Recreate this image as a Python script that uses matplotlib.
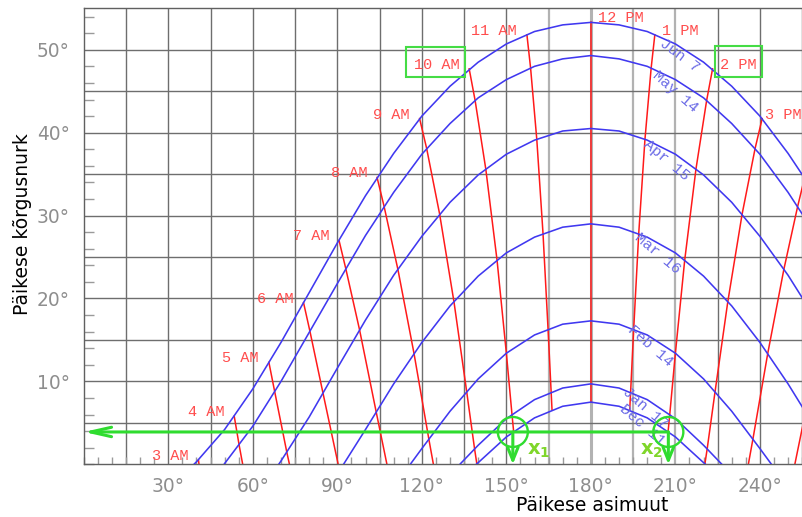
import matplotlib
matplotlib.use('Agg')
import matplotlib.pyplot as plt
from matplotlib.patches import Rectangle, Ellipse
from matplotlib.ticker import MultipleLocator

# ---------------- data ----------------
dates = ['Jun 7', 'May 14', 'Apr 15', 'Mar 16', 'Feb 14', 'Jan 17', 'Dec 11']

# sun path for each date: azimuth (deg) and altitude (deg)
jun7_az = [39.1, 40, 50, 60, 70, 80, 90, 100, 110, 120, 130, 140, 150, 160, 170,
           180, 190, 200, 210, 220, 230, 240, 250, 260]
jun7_alt = [0.0, 0.3, 4.2, 9.1, 14.7, 20.7, 26.7, 32.4, 37.5, 42.0, 45.6, 48.5, 50.7,
            52.2, 53.0, 53.3, 53.0, 52.2, 50.7, 48.5, 45.6, 42.0, 37.5, 32.4]
may14_az = [49.8, 50, 60, 70, 80, 90, 100, 110, 120, 130, 140, 150, 160, 170, 180,
            190, 200, 210, 220, 230, 240, 250, 260]
may14_alt = [0.0, 0.1, 4.6, 10.0, 15.9, 21.8, 27.6, 32.8, 37.4, 41.1, 44.2, 46.4, 48.0,
             48.9, 49.3, 48.9, 48.0, 46.4, 44.2, 41.1, 37.4, 32.8, 27.6]
apr15_az = [69.2, 70, 80, 90, 100, 110, 120, 130, 140, 150, 160, 170, 180, 190, 200,
            210, 220, 230, 240, 250, 260]
apr15_alt = [0.0, 0.4, 5.7, 11.6, 17.4, 22.8, 27.5, 31.6, 34.9, 37.4, 39.1, 40.2, 40.5,
             40.2, 39.1, 37.4, 34.9, 31.6, 27.5, 22.8, 17.4]
mar16_az = [92.2, 100, 110, 120, 130, 140, 150, 160, 170, 180, 190, 200, 210, 220, 230,
            240, 250, 260]
mar16_alt = [0.0, 4.2, 9.7, 14.7, 19.1, 22.7, 25.5, 27.4, 28.6, 29.0, 28.6, 27.4, 25.5,
             22.7, 19.1, 14.7, 9.7, 4.2]
feb14_az = [115.9, 120, 130, 140, 150, 160, 170, 180, 190, 200, 210, 220, 230, 240, 244.1]
feb14_alt = [0.0, 1.9, 6.4, 10.3, 13.4, 15.6, 16.9, 17.3, 16.9, 15.6, 13.4, 10.3, 6.4, 1.9, 0.0]
jan17_az = [133.5, 140, 150, 160, 170, 180, 190, 200, 210, 220, 226.5]
jan17_alt = [0.0, 2.3, 5.5, 7.8, 9.2, 9.7, 9.2, 7.8, 5.5, 2.3, 0.0]
dec11_az = [139.3, 140, 150, 160, 170, 180, 190, 200, 210, 220, 220.7]
dec11_alt = [0.0, 0.2, 3.3, 5.6, 7.0, 7.5, 7.0, 5.6, 3.3, 0.2, 0.0]

# hour lines: sun position at a given solar hour, from Jun 7 down to Dec 11 / horizon
hours = ['3 AM', '4 AM', '5 AM', '6 AM', '7 AM', '8 AM', '9 AM', '10 AM', '11 AM',
         '12 PM', '1 PM', '2 PM', '3 PM', '4 PM', '5 PM']
h3am_az, h3am_alt = [40.7, 40.9], [0.5, 0.0]
h4am_az, h4am_alt = [53.4, 55.2, 56.4], [5.8, 2.2, 0.0]
h5am_az, h5am_alt = [65.7, 67.8, 72.1, 73.0], [12.3, 8.7, 1.4, 0.0]
h6am_az, h6am_alt = [78.0, 80.3, 84.9, 90.3], [19.5, 16.0, 8.6, 0.0]
h7am_az, h7am_alt = [90.6, 93.0, 97.9, 103.8, 107.6], [27.0, 23.6, 16.2, 6.3, 0.0]
h8am_az = [104.1, 106.6, 111.5, 117.2, 122.5, 124.1]
h8am_alt = [34.6, 31.1, 23.5, 13.4, 3.0, 0.0]
h9am_az = [119.2, 121.7, 126.3, 131.4, 135.9, 138.7, 139.5]
h9am_alt = [41.7, 38.1, 30.2, 19.6, 8.8, 1.9, 0.1]
h10am_az = [136.8, 138.9, 142.7, 146.7, 150.0, 152.0, 152.6]
h10am_alt = [47.7, 43.9, 35.6, 24.6, 13.4, 6.0, 3.9]
h11am_az = [157.3, 158.6, 160.8, 163.0, 164.8, 165.9, 166.2]
h11am_alt = [51.8, 47.8, 39.2, 27.9, 16.3, 8.7, 6.6]
h12pm_az = [180.0, 180.0, 180.0, 180.0, 180.0, 180.0, 180.0]
h12pm_alt = [53.3, 49.3, 40.5, 29.0, 17.3, 9.7, 7.5]
h1pm_az = [202.7, 201.4, 199.2, 197.0, 195.2, 194.1, 193.8]
h1pm_alt = [51.8, 47.8, 39.2, 27.9, 16.3, 8.7, 6.6]
h2pm_az = [223.2, 221.1, 217.3, 213.3, 210.0, 208.0, 207.4]
h2pm_alt = [47.7, 43.9, 35.6, 24.6, 13.4, 6.0, 3.9]
h3pm_az = [240.8, 238.3, 233.7, 228.6, 224.1, 221.3, 220.5]
h3pm_alt = [41.7, 38.1, 30.2, 19.6, 8.8, 1.9, 0.1]
h4pm_az = [255.9, 253.4, 248.5, 242.8, 237.5, 235.9]
h4pm_alt = [34.6, 31.1, 23.5, 13.4, 3.0, 0.0]
h5pm_az = [269.4, 267.0, 262.1, 256.2, 252.4]
h5pm_alt = [27.0, 23.6, 16.2, 6.3, 0.0]

# construction shown in green: altitude of the obstacle and the two azimuths found
obstacle_alt = 3.9
x1_az = 152.3
x2_az = 207.5

x_ticks = [30, 60, 90, 120, 150, 180, 210, 240]
y_ticks = [10, 20, 30, 40, 50]

# ---------------- styling / layout ----------------
date_paths = list(zip(dates,
                      [jun7_az, may14_az, apr15_az, mar16_az, feb14_az, jan17_az, dec11_az],
                      [jun7_alt, may14_alt, apr15_alt, mar16_alt, feb14_alt, jan17_alt, dec11_alt]))
hour_paths = list(zip(hours,
                      [h3am_az, h4am_az, h5am_az, h6am_az, h7am_az, h8am_az, h9am_az, h10am_az,
                       h11am_az, h12pm_az, h1pm_az, h2pm_az, h3pm_az, h4pm_az, h5pm_az],
                      [h3am_alt, h4am_alt, h5am_alt, h6am_alt, h7am_alt, h8am_alt, h9am_alt,
                       h10am_alt, h11am_alt, h12pm_alt, h1pm_alt, h2pm_alt, h3pm_alt,
                       h4pm_alt, h5pm_alt]))
# where each date label sits (azimuth, altitude, text rotation)
date_label_place = [(211.6, 49.3, -37), (209.9, 45.0, -41), (207.0, 36.7, -40),
                    (203.5, 25.4, -40), (201.0, 14.3, -41), (199.2, 6.8, -41),
                    (198.2, 4.7, -41)]

BLUE = '#4038f0'
BLUE_TXT = '#6b6be6'
RED = '#ff1a1a'
RED_TXT = '#ff4d4d'
GREEN = '#2fdc2f'
GREEN_TXT = '#7fd62a'
GRID = '#6e6e6e'
MONO = 'Liberation Mono'

fig = plt.figure(figsize=(8.03, 5.17), dpi=100)
ax = fig.add_axes([83.8 / 803, 52.7 / 517, 719.2 / 803, 456 / 517])
ax.set_xlim(0, 255.3)
ax.set_ylim(0, 55)

# grid
for v in range(15, 256, 15):
    if v in (165, 195, 210):
        ax.axvline(v, color='#b2b2b2', lw=1.6, zorder=1)
    elif v == 180:
        ax.axvline(v, color='#b2b2b2', lw=2.2, zorder=1)
    else:
        ax.axvline(v, color=GRID, lw=1.0, zorder=1)
for v in range(5, 55, 5):
    ax.axhline(v, color=GRID, lw=1.0, zorder=1)

for sp in ('left', 'bottom', 'top'):
    ax.spines[sp].set_color('#606060')
    ax.spines[sp].set_linewidth(1.0)
ax.spines['right'].set_visible(False)

# ticks
ax.set_xticks(x_ticks)
ax.set_xticklabels([f'{v}°' for v in x_ticks], family='DejaVu Sans')
ax.set_yticks(y_ticks)
ax.set_yticklabels([f'{v}°' for v in y_ticks], family='DejaVu Sans')
ax.xaxis.set_minor_locator(MultipleLocator(5))
ax.yaxis.set_minor_locator(MultipleLocator(2))
ax.tick_params(which='major', length=0, labelsize=13.4, labelcolor='#8e8e8e')
ax.tick_params(axis='x', which='major', pad=9)
ax.tick_params(axis='y', which='major', pad=10)
ax.tick_params(which='minor', direction='in', color='#9a9a9a', width=1.0)
ax.tick_params(axis='x', which='minor', length=5)
ax.tick_params(axis='y', which='minor', length=7)
ax.tick_params(top=False, right=False, which='both')

# hour lines
for name, az, alt in hour_paths:
    ax.plot(az, alt, color=RED, lw=1.1, zorder=2)
    if 'AM' in name:
        off, ha = (-10, 0), 'right'
    elif name == '3 PM':
        off, ha = (3, 0), 'left'
    else:
        off, ha = (7, 0), 'left'
    ax.annotate(name, (az[0], alt[0]), xytext=off, textcoords='offset pixels',
                ha=ha, va='baseline', color=RED_TXT, fontsize=11, family=MONO)

# date curves
for name, az, alt in date_paths:
    ax.plot(az, alt, color=BLUE, lw=1.15, zorder=3)
for (name, az, alt), (lx, ly, rot) in zip(date_paths, date_label_place):
    ax.text(lx, ly, name, rotation=rot, rotation_mode='anchor', ha='center',
            va='center', color=BLUE_TXT, fontsize=11, family=MONO, zorder=4)

# green construction
ax.add_patch(Rectangle((114.4, 46.75), 20.9, 3.55, fill=False, ec='#45dc45', lw=1.5, zorder=5))
ax.add_patch(Rectangle((224.1, 46.7), 16.6, 3.7, fill=False, ec='#45dc45', lw=1.5, zorder=5))
ax.annotate('', xy=(0, obstacle_alt), xytext=(x2_az, obstacle_alt), annotation_clip=False,
            arrowprops=dict(arrowstyle='->,head_length=0.75,head_width=0.17', color=GREEN,
                            lw=2.2, shrinkA=0, shrinkB=0, mutation_scale=20), zorder=6)
for xa in (x1_az, x2_az):
    ax.annotate('', xy=(xa, 0), xytext=(xa, obstacle_alt), annotation_clip=False,
                arrowprops=dict(arrowstyle='->,head_length=0.47,head_width=0.19', color=GREEN,
                                lw=2.2, shrinkA=0, shrinkB=0, mutation_scale=20), zorder=6)
    ax.add_patch(Ellipse((xa, obstacle_alt), 10.65, 3.62, fill=False, ec=GREEN, lw=1.7, zorder=6))
ax.text(x1_az + 5.0, 1.1, r'$\mathbf{x_1}$', color=GREEN_TXT, fontsize=14,
        ha='left', va='baseline', zorder=7)
ax.text(x2_az - 10.0, 1.1, r'$\mathbf{x_2}$', color=GREEN_TXT, fontsize=14,
        ha='left', va='baseline', zorder=7)

# axis labels
ax.set_xlabel('Päikese asimuut', fontsize=13.5, family='DejaVu Sans', color='black')
ax.xaxis.set_label_coords(0.7068, -0.0893)
ax.xaxis.label.set_va('center')
ax.set_ylabel('Päikese kõrgusnurk', fontsize=13.5, family='DejaVu Sans', color='black')
ax.yaxis.set_label_coords(-0.0859, 0.527)
ax.yaxis.label.set_va('center')

fig.savefig('out.png', dpi=100)
